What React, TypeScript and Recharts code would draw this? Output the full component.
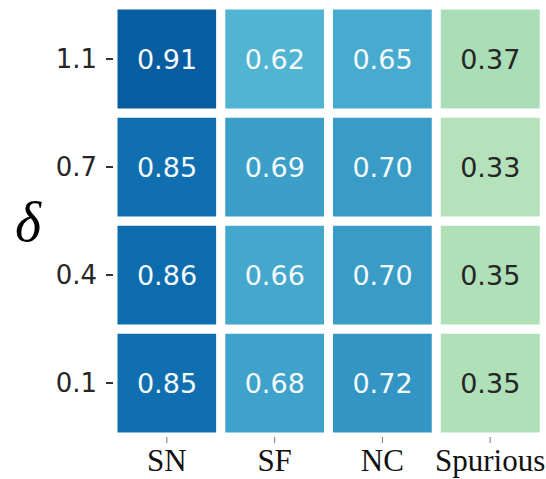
import { BarChart, Bar, XAxis, YAxis, Cell, LabelList } from "recharts";

// columns (x) and rows (y, top to bottom)
const methods = ["SN", "SF", "NC", "Spurious"];
const deltas = ["1.1", "0.7", "0.4", "0.1"];

// one array per delta row, in the order of `methods`
const row11 = [0.91, 0.62, 0.65, 0.37];
const row07 = [0.85, 0.69, 0.7, 0.33];
const row04 = [0.86, 0.66, 0.7, 0.35];
const row01 = [0.85, 0.68, 0.72, 0.35];
const rows = [row11, row07, row04, row01];

// matplotlib GnBu anchors
const gnbu = [
  "#f7fcf0",
  "#e0f3db",
  "#ccebc5",
  "#a8ddb5",
  "#7bccc4",
  "#4eb3d3",
  "#2b8cbe",
  "#0868ac",
  "#084081",
];

function hex(c: string) {
  return [1, 3, 5].map((i) => parseInt(c.slice(i, i + 2), 16));
}

function colorFor(v: number) {
  const t = Math.max(0, Math.min(1, v)) * (gnbu.length - 1);
  const i = Math.min(Math.floor(t), gnbu.length - 2);
  const f = t - i;
  const a = hex(gnbu[i]);
  const b = hex(gnbu[i + 1]);
  const m = a.map((x, k) => Math.round(x + (b[k] - x) * f));
  return `rgb(${m[0]},${m[1]},${m[2]})`;
}

// stacked table: every cell gets a height of 1, bottom row first
const table = methods.map((m, c) => {
  const entry: Record<string, number | string> = { method: m };
  deltas.forEach((d, r) => {
    entry[`d${r}`] = 1;
    entry[`v${r}`] = rows[r][c];
  });
  return entry;
});

const stackOrder = [3, 2, 1, 0];

export default function App() {
  return (
    <div style={{ position: "absolute", left: 0, top: 0, background: "#fff" }}>
      <BarChart
        width={546}
        height={479}
        data={table}
        margin={{ top: 5, right: 2, bottom: 0, left: 0 }}
        barCategoryGap={0}
        barGap={0}
      >
        <XAxis
          dataKey="method"
          height={42}
          axisLine={false}
          tickSize={6}
          tickMargin={6}
          tickLine={{ stroke: "#777", strokeWidth: 1 }}
          tick={{
            fill: "#111",
            fontSize: 31,
            fontFamily: "'Liberation Serif', 'Times New Roman', serif",
          }}
          interval={0}
        />
        <YAxis
          type="number"
          domain={[0, 4]}
          ticks={[0.5, 1.5, 2.5, 3.5]}
          tickFormatter={(v: number) => deltas[3 - Math.floor(v)]}
          width={113}
          axisLine={false}
          tickSize={7}
          tickMargin={9}
          tickLine={{ stroke: "#333", strokeWidth: 2 }}
          tick={{
            fill: "#262626",
            fontSize: 26,
            fontFamily: "'DejaVu Sans', sans-serif",
          }}
          label={{
            value: "δ",
            position: "insideLeft",
            offset: 15,
            style: {
              fontSize: 56,
              fontStyle: "italic",
              fontFamily: "'Liberation Serif', 'Times New Roman', serif",
              fill: "#000",
            },
          }}
        />
        {stackOrder.map((r) => (
          <Bar
            key={r}
            dataKey={`d${r}`}
            stackId="grid"
            stroke="#fff"
            strokeWidth={9}
            isAnimationActive={false}
          >
            {table.map((e, c) => (
              <Cell key={c} fill={colorFor(rows[r][c])} />
            ))}
            <LabelList
              dataKey={`v${r}`}
              position="center"
              content={(p: any) => {
                const v = Number(p.value);
                return (
                  <text
                    x={p.x + p.width / 2}
                    y={p.y + p.height / 2}
                    textAnchor="middle"
                    dominantBaseline="central"
                    fontSize={27}
                    fontFamily="'DejaVu Sans', sans-serif"
                    fill={v < 0.5 ? "#262626" : "#f4fafd"}
                  >
                    {v.toFixed(2)}
                  </text>
                );
              }}
            />
          </Bar>
        ))}
      </BarChart>
    </div>
  );
}
